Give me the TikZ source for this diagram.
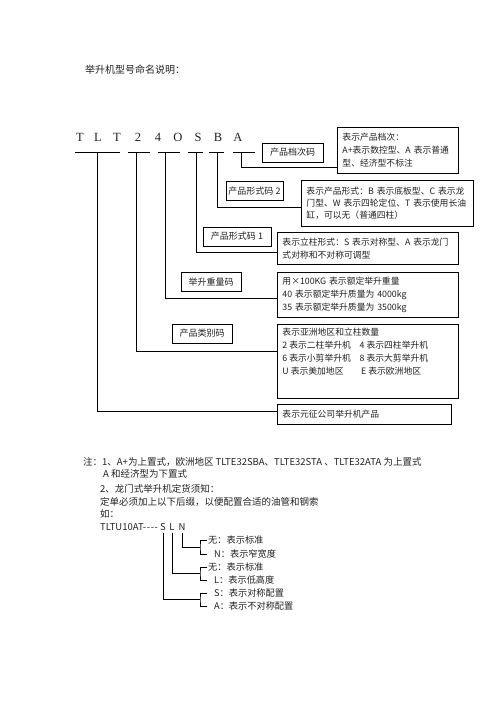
\documentclass[tikz,border=0pt]{standalone}
\usepackage{fontspec}
\setmainfont{Noto Sans CJK SC}
\newfontfamily\modelfont{Liberation Serif}
\usetikzlibrary{positioning}
\definecolor{ink}{HTML}{222222}

\tikzset{
  codebox/.style={draw,line width=.9pt,font=\fontsize{9}{11}\selectfont,inner sep=0pt,minimum height=19pt},
  descbox/.style={draw,line width=.9pt,anchor=north west,align=left,inner xsep=5pt,inner ysep=0pt,font=\fontsize{8.8}{13}\selectfont},
  link/.style={line width=.9pt},
  note/.style={anchor=west,inner sep=0pt,font=\fontsize{9.5}{12}\selectfont},
}

\begin{document}
\begin{tikzpicture}[x=1pt,y=-1pt,every node/.style={text=ink}]
\useasboundingbox[fill=white] (0,0) rectangle (496,702);
\node[note,font=\fontsize{10}{12}\selectfont] (title) at (85,70) {举升机型号命名说明：};
% model code and its underlines
\foreach \c/\x [count=\i] in {T/80,L/98,T/117,2/138,4/158,O/178,S/198,B/218,A/238}
  {\node[font=\modelfont\fontsize{12.5}{14}\selectfont] (m\i) at (\x,137) {\c};}
\foreach \a/\b in {75/120,128/150,158/180,188/203,209/224,233/255}
  {\draw[link] (\a,152) -- (\b,152);}
% code labels
\node[codebox,minimum width=61pt] (l5) at (292.5,152.5) {产品档次码};
\node[codebox,minimum width=57pt] (l4) at (254.5,191) {产品形式码 2};
\node[codebox,minimum width=68pt] (l3) at (237,236.5) {产品形式码 1};
\node[codebox,minimum width=60pt] (l2) at (211,282) {举升重量码};
\node[codebox,minimum width=60pt] (l1) at (202,333.5) {产品类别码};
% meanings
\node[descbox,text width=111pt,minimum height=46pt] (d5) at (337,127)
  {表示产品档次：\\A+表示数控型、A 表示普通\\型、经济型不标注};
\node[descbox,text width=162pt,minimum height=46pt,font=\fontsize{8.8}{12}\selectfont] (d4) at (301,180)
  {表示产品形式：B 表示底板型、C 表示龙\\门型、W 表示四轮定位、T 表示使用长油\\缸，可以无（普通四柱）};
\node[descbox,text width=171pt,minimum height=32pt] (d3) at (277,232)
  {表示立柱形式：S 表示对称型、A 表示龙门\\式对称和不对称可调型};
\node[descbox,text width=171pt,minimum height=45pt] (d2) at (277,272)
  {用×100KG 表示额定举升重量\\40 表示额定举升质量为 4000kg\\35 表示额定举升质量为 3500kg};
\node[descbox,inner ysep=4pt] (d1) at (277,324)
  {\parbox[c][66pt][t]{171pt}{表示亚洲地区和立柱数量\\2 表示二柱举升机　4 表示四柱举升机\\6 表示小剪举升机　8 表示大剪举升机\\U 表示美加地区　　E 表示欧洲地区}};
\node[descbox,text width=164pt,minimum height=20pt] (d0) at (277,404) {表示元征公司举升机产品};
% connectors
\foreach \n/\x/\y/\d in {A/241/167/d5,B/217/207/d4,S/196/252/d3,W/165/298/d2,K/136/351/d1,T/97/411/d0}{
  \coordinate (u\n) at (\x,152);
  \coordinate (k\n) at (\x,\y);
  \draw[link] (u\n) -- (k\n) -- (k\n -| \d.west);
}
% notes
\node[note] (n1) at (83,462) {注：1、A+为上置式，欧洲地区 TLTE32SBA、TLTE32STA 、TLTE32ATA 为上置式};
\node[note] (n2) at (103,474) {A 和经济型为下置式};
\node[note] (n3) at (100,489) {2、龙门式举升机定货须知：};
\node[note] (n4) at (100,502) {定单必须加上以下后缀，以便配置合适的油管和钢索};
\node[note] (n5) at (100,514) {如：};
\node[note] (n6) at (100,527) {TLTU10AT{-}\hspace{.6pt}{-}\hspace{.6pt}{-}\hspace{.6pt}{-}};
\node[note,anchor=center,inner ysep=2pt] (sS) at (163,527) {S};
\node[note,anchor=center,inner ysep=2pt] (sL) at (172,527) {L};
\node[note,anchor=center,inner ysep=2pt] (sN) at (182,527) {N};
% suffix options
\node[note,inner sep=1pt,font=\fontsize{9.2}{11}\selectfont] (o1) at (207,540) {无：表示标准};
\node[note,inner sep=1pt,font=\fontsize{9.2}{11}\selectfont] (o2) at (207,554) {\hspace*{6pt}N：表示窄宽度};
\node[note,inner sep=1pt,font=\fontsize{9.2}{11}\selectfont] (o3) at (207,567) {无：表示标准};
\node[note,inner sep=1pt,font=\fontsize{9.2}{11}\selectfont] (o4) at (207,580) {\hspace*{6pt}L：表示低高度};
\node[note,inner sep=1pt,font=\fontsize{9.2}{11}\selectfont] (o5) at (207,593) {\hspace*{6pt}S：表示对称配置};
\node[note,inner sep=1pt,font=\fontsize{9.2}{11}\selectfont] (o6) at (207,606) {\hspace*{6pt}A：表示不对称配置};
\coordinate (bN) at (200,547);
\coordinate (bL) at (200,573);
\coordinate (bS) at (200,599);
\draw[link] (sN.south) |- (bN);
\draw[link] (sL.south) |- (bL);
\draw[link] (sS.south) |- (bS);
\draw[link] (o1.west) -| (bN) |- (o2.west);
\draw[link] (o3.west) -| (bL) |- (o4.west);
\draw[link] (o5.west) -| (bS) |- (o6.west);
\end{tikzpicture}
\end{document}
